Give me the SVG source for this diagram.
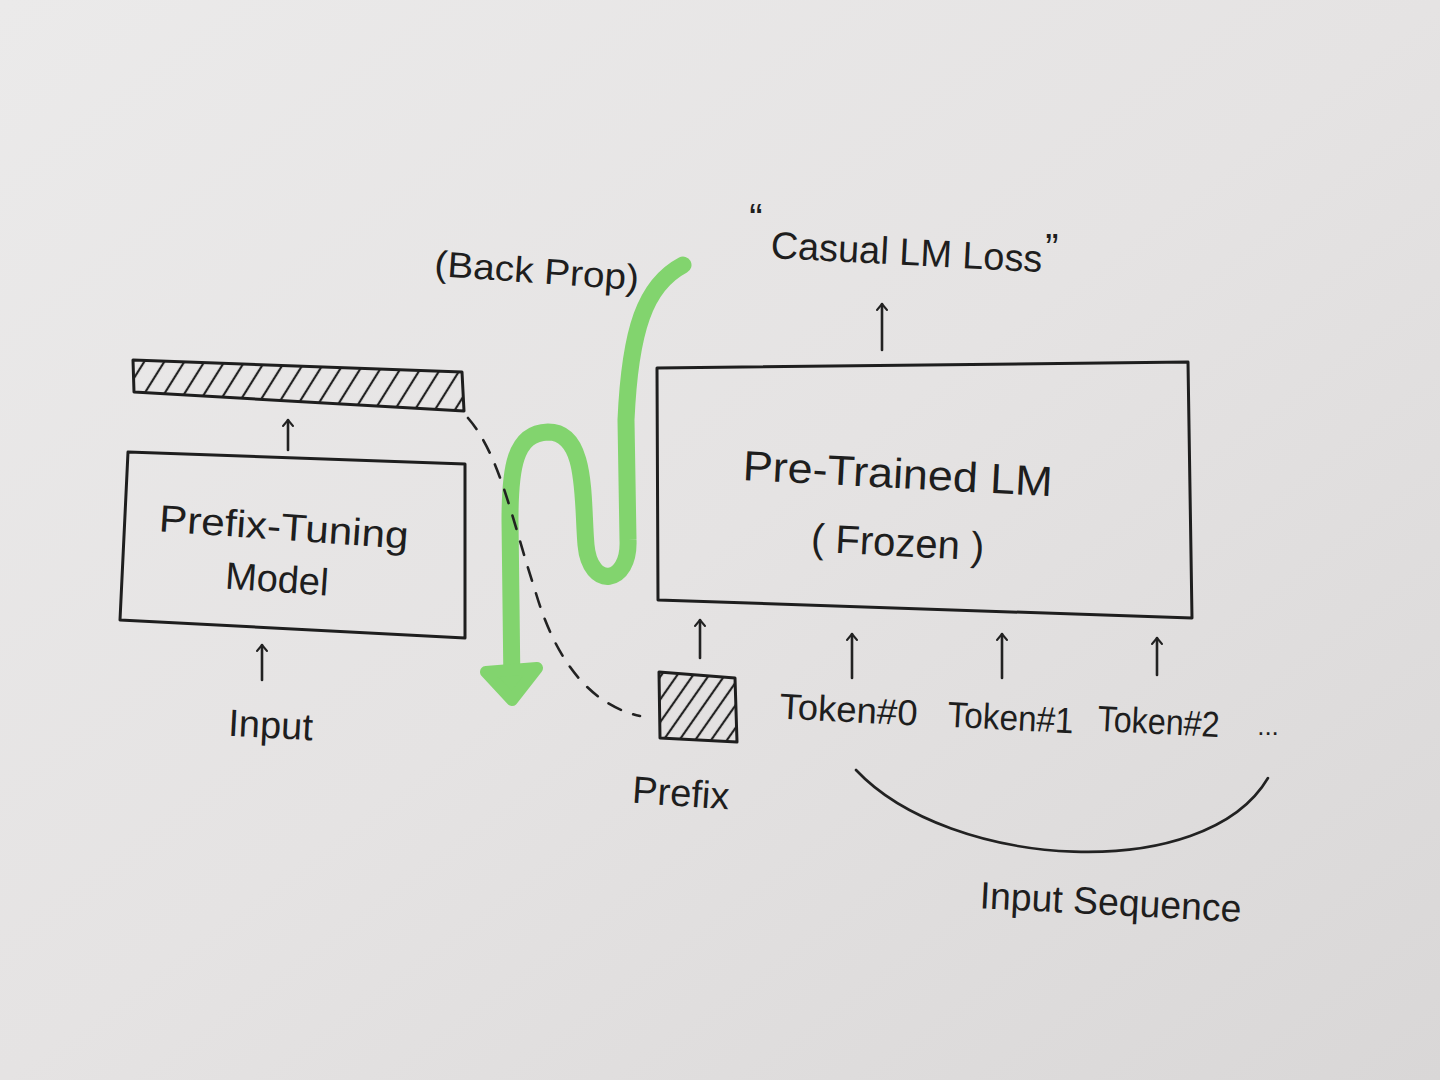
<svg xmlns="http://www.w3.org/2000/svg" width="1440" height="1080" viewBox="0 0 1440 1080">
  <defs>
    <linearGradient id="paper" x1="0" y1="0" x2="1" y2="1">
      <stop offset="0" stop-color="#ebeaea"/>
      <stop offset="0.5" stop-color="#e5e3e3"/>
      <stop offset="1" stop-color="#d9d7d7"/>
    </linearGradient>
    <pattern id="hatch" patternUnits="userSpaceOnUse" width="17" height="17" patternTransform="rotate(32)">
      <line x1="8" y1="0" x2="8" y2="17" stroke="#222" stroke-width="2.2"/>
    </pattern>
    <pattern id="hatch2" patternUnits="userSpaceOnUse" width="13" height="13" patternTransform="rotate(35)">
      <line x1="6" y1="0" x2="6" y2="13" stroke="#222" stroke-width="2.2"/>
    </pattern>
    <marker id="arr" viewBox="0 0 12 12" refX="10" refY="6" markerWidth="12" markerHeight="12" markerUnits="userSpaceOnUse" orient="auto">
      <path d="M4,1 L10,6 L4,11" fill="none" stroke="#222" stroke-width="2" stroke-linecap="round" stroke-linejoin="round"/>
    </marker>
    <style>
      .box { fill: none; stroke: #1e1e1e; stroke-width: 3; stroke-linejoin: round; }
      .lbl { font-family: "Liberation Sans", "DejaVu Sans", sans-serif; fill: #1e1e1e; font-weight: normal; }
      .arrow { stroke: #222; stroke-width: 2.6; fill: none; stroke-linecap: round; }
      .dash { stroke: #222; stroke-width: 2.6; fill: none; stroke-dasharray: 14 13; stroke-linecap: round; }
      .green { stroke: #82d46e; stroke-width: 17; fill: none; stroke-linecap: round; stroke-linejoin: round; }
    </style>
  </defs>

  <rect x="0" y="0" width="1440" height="1080" fill="url(#paper)"/>

  <!-- Connectors -->
  <g id="connectors">
    <!-- back prop green arrow -->
    <path class="green" d="M683,265 C 645,285 630,330 626,420 L 628,540 C 630,585 590,590 586,545 C 582,500 588,432 548,432 C 514,433 510,470 510,520 L 512,688"/>
    <polygon points="486,672 512,700 537,668" fill="#82d46e" stroke="#82d46e" stroke-width="12" stroke-linejoin="round"/>
    <!-- dashed link from prefix bar to prefix -->
    <path class="dash" d="M468,418 C 500,455 512,520 535,590 C 555,660 590,705 640,716"/>
    <!-- up arrows -->
    <line class="arrow" x1="288" y1="450" x2="288" y2="420" marker-end="url(#arr)"/>
    <line class="arrow" x1="262" y1="680" x2="262" y2="645" marker-end="url(#arr)"/>
    <line class="arrow" x1="882" y1="350" x2="882" y2="304" marker-end="url(#arr)"/>
    <line class="arrow" x1="700" y1="658" x2="700" y2="620" marker-end="url(#arr)"/>
    <line class="arrow" x1="852" y1="678" x2="852" y2="634" marker-end="url(#arr)"/>
    <line class="arrow" x1="1002" y1="678" x2="1002" y2="634" marker-end="url(#arr)"/>
    <line class="arrow" x1="1157" y1="675" x2="1157" y2="638" marker-end="url(#arr)"/>
    <!-- input sequence brace arc -->
    <path d="M856,770 C 950,870 1205,885 1268,778" fill="none" stroke="#222" stroke-width="2.6" stroke-linecap="round"/>
  </g>

  <!-- Prefix output bar -->
  <g id="prefix-bar">
    <polygon points="133,360 462,372 464,411 134,392" fill="url(#hatch)" stroke="none"/>
    <polygon class="box" points="133,360 462,372 464,411 134,392"/>
  </g>

  <!-- Prefix-Tuning Model -->
  <g id="prefix-tuning-model">
    <polygon class="box" points="128,452 465,464 465,638 120,620"/>
    <text class="lbl" x="283" y="540" font-size="38" text-anchor="middle" transform="rotate(4 283 540)" textLength="250" lengthAdjust="spacingAndGlyphs">Prefix-Tuning</text>
    <text class="lbl" x="276" y="592" font-size="38" text-anchor="middle" transform="rotate(4 276 592)">Model</text>
  </g>

  <!-- Input label -->
  <g id="input">
    <text class="lbl" x="270" y="738" font-size="38" text-anchor="middle" transform="rotate(3 270 738)">Input</text>
  </g>

  <!-- Back Prop label -->
  <g id="backprop-label">
    <text class="lbl" x="536" y="283" font-size="36" text-anchor="middle" transform="rotate(4 536 283)" textLength="205" lengthAdjust="spacingAndGlyphs">(Back Prop)</text>
  </g>

  <!-- Loss label -->
  <g id="loss">
    <text class="lbl" x="756" y="232" font-size="40" text-anchor="middle">“</text>
    <text class="lbl" x="906" y="265" font-size="38" text-anchor="middle" transform="rotate(3 906 265)" textLength="272" lengthAdjust="spacingAndGlyphs">Casual LM Loss</text>
    <text class="lbl" x="1052" y="262" font-size="40" text-anchor="middle">”</text>
  </g>

  <!-- Pre-Trained LM -->
  <g id="pretrained-lm">
    <polygon class="box" points="657,368 1188,362 1192,618 658,600"/>
    <text class="lbl" x="897" y="488" font-size="42" text-anchor="middle" transform="rotate(3 897 488)" textLength="310" lengthAdjust="spacingAndGlyphs">Pre-Trained LM</text>
    <text class="lbl" x="897" y="556" font-size="40" text-anchor="middle" transform="rotate(3 897 556)">( Frozen )</text>
  </g>

  <!-- Prefix -->
  <g id="prefix">
    <polygon points="659,672 735,678 737,742 660,738" fill="url(#hatch2)" stroke="none"/>
    <polygon class="box" points="659,672 735,678 737,742 660,738"/>
    <text class="lbl" x="680" y="806" font-size="38" text-anchor="middle" transform="rotate(4 680 806)">Prefix</text>
  </g>

  <!-- Tokens -->
  <g id="token0">
    <text class="lbl" x="848" y="722" font-size="36" text-anchor="middle" transform="rotate(3 848 722)" textLength="138" lengthAdjust="spacingAndGlyphs">Token#0</text>
  </g>
  <g id="token1">
    <text class="lbl" x="1010" y="730" font-size="36" text-anchor="middle" transform="rotate(3 1010 730)" textLength="126" lengthAdjust="spacingAndGlyphs">Token#1</text>
  </g>
  <g id="token2">
    <text class="lbl" x="1158" y="734" font-size="36" text-anchor="middle" transform="rotate(3 1158 734)" textLength="122" lengthAdjust="spacingAndGlyphs">Token#2</text>
  </g>
  <g id="ellipsis">
    <text class="lbl" x="1268" y="735" font-size="26" text-anchor="middle">...</text>
  </g>

  <!-- Input Sequence label -->
  <g id="input-sequence">
    <text class="lbl" x="1110" y="915" font-size="38" text-anchor="middle" transform="rotate(3 1110 915)" textLength="262" lengthAdjust="spacingAndGlyphs">Input Sequence</text>
  </g>
</svg>
